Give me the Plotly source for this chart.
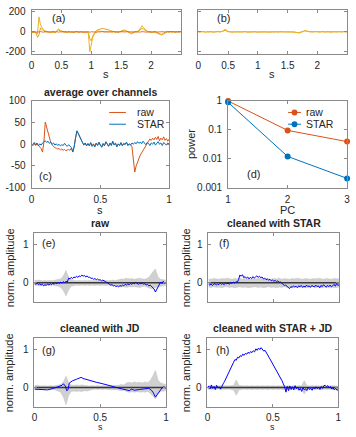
import plotly.graph_objects as go

W, H = 356, 437
FONT = "Liberation Sans, Arial, Helvetica, sans-serif"
TXT = "#262626"
FRAME = "#8a8a8a"
ORANGE = "#D95319"
BLUE = "#0072BD"
YELLOW = "#EDB120"
AMBER = "#E3A21A"
PBLUE = "#0000FF"
GRAY = "#d0d0d0"

# ---------------- data ----------------
# (a) raw channels (0 .. 2.5 s)
a_ch1 = [-3, -6, -2, -8, -20, 150, 70, 38, 20, 10,
         4, 0, -4, -2, -6, -3, -8, 5, 30, 18,
         8, 2, -3, 0, -4, -1, -5, 2, -3, 0,
         -4, 1, -2, 3, -1, -4, 2, -2, -6, -200,
         -110, -55, -22, -5, 5, 8, 6, 4, 7, 3,
         0, 4, -2, 2, -3, 1, -4, 0, 3, -2,
         2, 6, 12, 8, 2, -6, -12, -8, -2, 3,
         0, 5, 20, 40, 62, 42, 24, 12, 5, 0,
         -3, 2, -4, 0, -5, -10, -18, -25, -15, -6,
         0, 3, -2, 2, -3, 1, -4, 2, -1, 3,
         0]
a_ch2 = [2, -3, 4, -5, -55, -30, 40, 22, 10, 4,
         -2, 3, -5, 0, -3, 2, -4, 10, 20, 12,
         4, 0, -3, 2, -2, 3, -1, -4, 1, -2,
         3, 0, -3, 2, -2, 1, -3, 0, -4, -70,
         -90, -40, -10, 8, 18, 25, 30, 32, 33, 31,
         28, 24, 18, 12, 6, 2, -2, 1, -3, 2,
         8, 15, 20, 14, 5, -10, -18, -20, -10, -2,
         3, 0, 10, 25, 35, 28, 15, 6, 1, -2,
         2, -3, 1, -4, -8, -15, -25, -32, -22, -10,
         -3, 2, -1, 3, -2, 1, -3, 2, 0, -2,
         1]
a_ch3 = [0, -3, 2, -4, 1, -2, 3, -1, -4, 2,
         0, -3, 1, -2, 3, -1, 0, 2, -3, 1,
         -2, 4, -1, 0, -3, 2, -2, 1, -4, 0,
         3, -1, -2, 2, -3, 1, 0, -2, 3, -4,
         1, -1, 2, 0, -3, 1, -2, 3, 0, -1,
         2, -3, 1, -2, 0, 3, -1, 1, -3, 2,
         0, -2, 1, -1, 3, -2, 0, 2, -3, 1,
         -1, 0, 2, -2, 3, -1, 1, -3, 0, 2,
         -1, -2, 1, 3, -2, 0, 1, -3, 2, -1,
         0, 2, -2, 1, -1, 3, -2, 0, 1, -1,
         2]
# (b) cleaned channels
b_ch1 = [2, -3, 4, -1, 3, -4, 1, -2, 5, 0,
         -3, 2, -1, 4, -2, 1, 3, 12, 28, 10,
         3, -2, 1, -4, 2, -1, 3, -3, 0, 2,
         -2, 4, -1, 1, -3, 2, 0, -2, 3, -1,
         1, -3, 2, 0, -2, 4, -1, 1, -3, 2,
         0, -2, 3, -1, 1, -4, 2, 0, -2, 3,
         -1, 1, -2, 3, 0, -3, -6, -10, -12, -5,
         2, 8, 15, 9, 3, -1, 2, -2, 1, 3,
         -1, 2, -3, 1, 0, 3, -2, 1, -1, 2,
         -3, 1, 2, -1, 0, 3, -2, 1, 4, -1,
         1]
b_ch2 = [-1, 2, -2, 3, 0, -3, 2, 1, -1, 3,
         0, -2, 3, 1, -1, 2, 5, 8, 16, 7,
         1, 3, -1, 2, 0, -2, 1, 2, -1, 0,
         3, -1, 2, -2, 0, 1, 3, -1, 1, -2,
         2, 0, -1, 3, 1, -2, 2, 0, -3, 1,
         2, -1, 0, 3, -2, 1, 0, 2, -1, 1,
         3, 0, -1, 2, -2, -4, -8, -7, -5, 0,
         4, 6, 10, 5, 2, 0, 3, -1, 2, 0,
         2, -2, 1, 3, -1, 0, 2, -1, 3, 1,
         -2, 2, 0, 3, -1, 1, 2, -2, 1, 0,
         2]
# (c) average over channels
c_raw = [0, -2, 3, -3, 1, -2, -5, -10, -18, 5,
         51, 38, 24, 12, 4, -2, -6, -8, -9, -11,
         -10, -13, -11, -14, -12, -15, -13, -12, -14, -9,
         -17, -5, 14, 30, 25, 17, 10, 4, -1, 2,
         -3, 2, -4, 3, -4, 1, -5, 3, -2, 4,
         -3, -6, 2, -3, 5, 0, -4, 2, -2, 6,
         -1, 3, -5, 0, -2, 3, -3, 1, 0, 4,
         -2, 0, -1, -6, -45, -64, -50, -40, -33, -25,
         -20, -14, -9, -4, 2, 7, 12, 9, 14, 10,
         16, 11, 18, 8, 14, 10, 17, 9, 13, 7,
         12]
c_star = [2, -3, 4, -1, 3, -4, 1, -2, 3, 6,
          8, 4, 7, 2, 5, 0, 3, -2, 1, -3,
          0, -4, -1, -3, 2, -2, -5, -1, -4, -8,
          -18, -6, 15, 31, 24, 18, 9, 5, -2, 3,
          -4, 1, -3, 4, -5, 0, -6, 2, -3, 5,
          -2, -7, 1, -4, 6, -1, -5, 3, -3, 7,
          -2, 2, -6, 1, -3, 4, -4, 2, -1, 5,
          -3, 1, -2, 3, 0, 4, 1, 6, 2, 5,
          1, 7, 3, -1, 4, 2, -3, 3, 0, 5,
          -2, 2, 6, 0, 3, -3, 4, 1, -2, 3,
          0]
# (d) power per PC
pc = [1, 2, 3]
d_raw = [0.98, 0.095, 0.039]
d_star = [0.88, 0.012, 0.0021]
# (e)-(h) normalized amplitudes, 0..1 s
e_blue = [-0.02, -0.04, -0.01, -0.05, -0.03, -0.06, -0.04, -0.08, -0.05, -0.07,
          -0.03, -0.06, -0.02, -0.05, -0.01, -0.04, 0.00, -0.03, 0.01, -0.02,
          0.02, -0.01, 0.03, 0.00, 0.04, 0.02, 0.12, 0.10, 0.14, 0.11,
          0.15, 0.13, 0.17, 0.14, 0.18, 0.16, 0.20, 0.17, 0.19, 0.15,
          0.18, 0.14, 0.15, 0.11, 0.12, 0.09, 0.11, 0.08, 0.10, 0.07,
          0.08, 0.05, 0.07, 0.04, 0.03, 0.01, -0.02, -0.04, -0.06, -0.05,
          -0.08, -0.07, -0.10, -0.08, -0.11, -0.07, -0.09, -0.06, -0.08, -0.04,
          -0.06, -0.03, -0.05, -0.02, -0.04, 0.00, -0.03, 0.01, -0.02, -0.04,
          -0.01, -0.03, 0.00, -0.04, -0.02, -0.06, -0.04, -0.08, -0.06, -0.10,
          -0.12, -0.16, -0.24, -0.18, -0.10, -0.04, 0.02, -0.02, 0.04, -0.01,
          0.01]
e_up = [0.07, 0.06, 0.07, 0.05, 0.06, 0.05, 0.06, 0.05, 0.07, 0.08,
        0.10, 0.18, 0.32, 0.15, 0.08, 0.06, 0.05, 0.06, 0.05, 0.06,
        0.05, 0.06, 0.05, 0.06, 0.05, 0.06, 0.05, 0.06, 0.05, 0.06,
        0.07, 0.06, 0.08, 0.10, 0.09, 0.12, 0.10, 0.11, 0.09, 0.10,
        0.12, 0.10, 0.09, 0.12, 0.18, 0.28, 0.36, 0.15, 0.09, 0.08,
        0.07]
e_lo = [-0.07, -0.06, -0.08, -0.06, -0.07, -0.06, -0.07, -0.06, -0.08, -0.09,
        -0.12, -0.20, -0.34, -0.18, -0.09, -0.07, -0.06, -0.07, -0.06, -0.07,
        -0.06, -0.07, -0.06, -0.07, -0.06, -0.07, -0.06, -0.07, -0.06, -0.07,
        -0.08, -0.07, -0.09, -0.11, -0.10, -0.12, -0.10, -0.11, -0.10, -0.11,
        -0.12, -0.10, -0.09, -0.12, -0.14, -0.16, -0.12, -0.10, -0.09, -0.08,
        -0.07]
f_blue = [-0.04, -0.06, -0.03, -0.07, -0.04, -0.02, -0.06, -0.03, -0.05, -0.01,
          -0.04, -0.02, -0.05, 0.00, -0.03, -0.01, -0.04, 0.01, -0.02, 0.02,
          -0.01, 0.03, 0.01, 0.08, 0.20, 0.17, 0.21, 0.13, 0.16, 0.12,
          0.15, 0.10, 0.14, 0.11, 0.16, 0.12, 0.15, 0.18, 0.14, 0.17,
          0.13, 0.15, 0.10, 0.12, 0.08, 0.10, 0.07, 0.09, 0.05, 0.07,
          0.04, 0.06, 0.03, 0.05, 0.01, 0.02, -0.01, -0.04, -0.07, -0.06,
          -0.09, -0.12, -0.15, -0.10, -0.12, -0.08, -0.11, -0.09, -0.13, -0.08,
          -0.10, -0.07, -0.12, -0.09, -0.11, -0.06, -0.10, -0.08, -0.12, -0.07,
          -0.09, -0.11, -0.06, -0.10, -0.08, -0.13, -0.07, -0.10, -0.05, -0.09,
          -0.12, -0.07, -0.10, -0.06, -0.11, -0.08, -0.04, -0.09, -0.02, -0.07,
          -0.05]
f_up = [0.10, 0.09, 0.11, 0.10, 0.09, 0.11, 0.10, 0.12, 0.10, 0.09,
        0.11, 0.10, 0.12, 0.09, 0.11, 0.10, 0.09, 0.11, 0.10, 0.12,
        0.10, 0.09, 0.11, 0.10, 0.09, 0.11, 0.10, 0.12, 0.09, 0.11,
        0.10, 0.09, 0.11, 0.10, 0.12, 0.10, 0.09, 0.11, 0.10, 0.09,
        0.11, 0.10, 0.12, 0.10, 0.09, 0.11, 0.10, 0.09, 0.11, 0.10,
        0.10]
f_lo = [-0.11, -0.12, -0.10, -0.12, -0.11, -0.13, -0.11, -0.10, -0.12, -0.11,
        -0.13, -0.12, -0.10, -0.12, -0.11, -0.13, -0.12, -0.11, -0.10, -0.12,
        -0.11, -0.13, -0.12, -0.10, -0.12, -0.11, -0.13, -0.11, -0.12, -0.10,
        -0.12, -0.11, -0.13, -0.12, -0.10, -0.12, -0.11, -0.13, -0.12, -0.11,
        -0.10, -0.12, -0.11, -0.13, -0.12, -0.10, -0.12, -0.11, -0.13, -0.12,
        -0.11]
g_t = [0, 0.04, 0.07, 0.10, 0.145, 0.18, 0.21, 0.22, 0.235, 0.245,
       0.255, 0.265, 0.29, 0.32, 0.355, 0.37, 0.42, 0.47, 0.52, 0.56,
       0.59, 0.62, 0.66, 0.70, 0.72, 0.74, 0.76, 0.80, 0.84, 0.87,
       0.89, 0.905, 0.92, 0.935, 0.95, 0.97, 0.985, 1.0]
g_blue = [-0.04, -0.05, -0.07, -0.06, -0.02, 0.02, 0.06, 0.10, 0.04, -0.08,
          -0.06, 0.12, 0.18, 0.22, 0.27, 0.24, 0.18, 0.14, 0.10, 0.06,
          0.02, -0.01, -0.03, -0.06, -0.08, -0.04, -0.07, -0.05, -0.03, -0.02,
          -0.07, -0.14, -0.25, -0.18, -0.08, -0.01, 0.02, -0.02]
g_up = [0.05, 0.06, 0.05, 0.04, 0.05, 0.04, 0.05, 0.04, 0.05, 0.06,
        0.08, 0.15, 0.30, 0.12, 0.07, 0.06, 0.07, 0.06, 0.07, 0.06,
        0.05, 0.04, 0.05, 0.04, 0.05, 0.04, 0.05, 0.04, 0.05, 0.05,
        0.06, 0.05, 0.06, 0.08, 0.07, 0.12, 0.14, 0.12, 0.15, 0.13,
        0.14, 0.12, 0.15, 0.13, 0.18, 0.30, 0.45, 0.20, 0.12, 0.10,
        0.08]
g_lo = [-0.05, -0.06, -0.05, -0.04, -0.05, -0.04, -0.05, -0.04, -0.06, -0.08,
        -0.12, -0.25, -0.45, -0.20, -0.10, -0.09, -0.10, -0.09, -0.10, -0.08,
        -0.09, -0.07, -0.05, -0.04, -0.05, -0.04, -0.05, -0.04, -0.05, -0.05,
        -0.06, -0.05, -0.06, -0.08, -0.07, -0.10, -0.12, -0.11, -0.12, -0.10,
        -0.12, -0.11, -0.12, -0.10, -0.14, -0.22, -0.30, -0.16, -0.10, -0.09,
        -0.08]
h_blue = [0.00, 0.04, -0.03, 0.07, -0.02, 0.03, -0.05, 0.06, -0.01, 0.02,
          -0.04, 0.05, 0.10, 0.16, 0.24, 0.32, 0.38, 0.46, 0.55, 0.60,
          0.67, 0.74, 0.72, 0.80, 0.78, 0.84, 0.82, 0.88, 0.85, 0.90,
          0.88, 0.93, 0.90, 0.95, 0.92, 0.97, 0.94, 1.02, 0.98, 1.04,
          1.00, 1.05, 0.99, 0.96, 0.98, 0.90, 0.86, 0.80, 0.74, 0.68,
          0.62, 0.57, 0.50, 0.46, 0.40, 0.34, 0.27, 0.18, 0.10, 0.02,
          -0.12, 0.03, -0.08, 0.04, -0.05, 0.02, -0.06, 0.05, -0.03, 0.01,
          -0.07, -0.02, -0.10, 0.00, -0.06, -0.03, -0.08, 0.01, -0.05, -0.02,
          -0.07, 0.00, -0.04, 0.02, -0.03, 0.01, -0.05, 0.03, -0.02, 0.05,
          0.06, 0.02, 0.05, -0.01, 0.03, -0.04, 0.00, -0.06, -0.02, -0.07,
          -0.05]
h_up = [0.04, 0.05, 0.04, 0.05, 0.04, 0.05, 0.04, 0.05, 0.04, 0.05,
        0.06, 0.20, 0.06, 0.05, 0.04, 0.05, 0.04, 0.05, 0.04, 0.05,
        0.04, 0.05, 0.04, 0.05, 0.04, 0.05, 0.04, 0.05, 0.04, 0.05,
        0.04, 0.05, 0.04, 0.05, 0.04, 0.05, 0.05, 0.18, 0.05, 0.04,
        0.05, 0.04, 0.05, 0.04, 0.05, 0.04, 0.05, 0.04, 0.05, 0.04,
        0.04]
h_lo = [-0.04, -0.05, -0.04, -0.05, -0.04, -0.05, -0.04, -0.05, -0.04, -0.05,
        -0.06, -0.20, -0.06, -0.05, -0.04, -0.05, -0.04, -0.05, -0.04, -0.05,
        -0.04, -0.05, -0.04, -0.05, -0.04, -0.05, -0.04, -0.05, -0.04, -0.05,
        -0.04, -0.05, -0.04, -0.05, -0.04, -0.05, -0.05, -0.17, -0.05, -0.04,
        -0.05, -0.04, -0.05, -0.04, -0.05, -0.04, -0.05, -0.04, -0.05, -0.04,
        -0.04]
zero_t = [0, 1]
zero_v = [0, 0]


def tgrid(vals, span):
    n = len(vals)
    return [span * i / (n - 1) for i in range(n)]


def fx(px):
    return px / W


def fy(py):
    return 1 - py / H


fig = go.Figure()

# boxes in pixels: (left, top, right, bottom)
boxes = {
    1: (29, 5, 181, 50),
    2: (198.7, 5, 350, 50),
    3: (29, 98, 169, 187),
    4: (229, 98, 350, 187),
    5: (32, 233, 165.7, 304),
    6: (209, 233, 342, 304),
    7: (32, 341, 165.7, 411),
    8: (208, 341, 341, 411),
}


def axname(i, kind):
    return kind if i == 1 else f"{kind}{i}"


def ref(i):
    return ("x" if i == 1 else f"x{i}"), ("y" if i == 1 else f"y{i}")


def line(i, x, y, color, width=1, **kw):
    xr, yr = ref(i)
    fig.add_trace(go.Scatter(x=x, y=y, mode="lines", xaxis=xr, yaxis=yr,
                             line=dict(color=color, width=width), showlegend=False,
                             hoverinfo="skip", **kw))


def band(i, lo, up):
    xr, yr = ref(i)
    t = tgrid(lo, 1.0)
    fig.add_trace(go.Scatter(x=t, y=lo, mode="lines", xaxis=xr, yaxis=yr,
                             line=dict(width=0.5, color="#c2c2c2"), showlegend=False,
                             hoverinfo="skip"))
    fig.add_trace(go.Scatter(x=t, y=up, mode="lines", xaxis=xr, yaxis=yr, fill="tonexty",
                             fillcolor=GRAY, line=dict(width=0.5, color="#c2c2c2"),
                             showlegend=False, hoverinfo="skip"))


# (a)
line(1, tgrid(a_ch2, 2.5), a_ch2, AMBER, 1)
line(1, tgrid(a_ch1, 2.5), a_ch1, YELLOW, 1)
line(1, tgrid(a_ch3, 2.5), a_ch3, ORANGE, 0.8)
# (b)
line(2, tgrid(b_ch2, 2.5), b_ch2, AMBER, 1)
line(2, tgrid(b_ch1, 2.5), b_ch1, YELLOW, 1)
# (c)
line(3, tgrid(c_raw, 1.0), c_raw, ORANGE, 1)
line(3, tgrid(c_star, 1.0), c_star, BLUE, 1)
# (d)
for vals, col in ((d_raw, ORANGE), (d_star, BLUE)):
    fig.add_trace(go.Scatter(x=pc, y=vals, mode="lines+markers", xaxis="x4", yaxis="y4",
                             line=dict(color=col, width=1), marker=dict(color=col, size=6),
                             cliponaxis=False, showlegend=False, hoverinfo="skip"))
# (e)-(h)
for i, lo, up, blue, bt in ((5, e_lo, e_up, e_blue, None), (6, f_lo, f_up, f_blue, None),
                            (7, g_lo, g_up, g_blue, g_t), (8, h_lo, h_up, h_blue, None)):
    band(i, lo, up)
    line(i, zero_t, zero_v, "#3a3a3a", 1.5)
    line(i, bt if bt is not None else tgrid(blue, 1.0), blue, PBLUE, 1)

tickfont = dict(family=FONT, size=10, color=TXT)
common = dict(showline=True, linecolor=FRAME, linewidth=1, mirror="ticks", ticks="inside",
              ticklen=3, tickcolor=FRAME, showgrid=False, zeroline=False, tickfont=tickfont,
              tickmode="array", fixedrange=True)

axes_cfg = {
    1: (dict(range=[0, 2.5], tickvals=[0, 0.5, 1, 1.5, 2], ticktext=["0", "0.5", "1", "1.5", "2"]),
        dict(range=[-220, 220], tickvals=[-200, 0, 200], ticktext=["-200", "0", "200"])),
    2: (dict(range=[0, 2.5], tickvals=[0, 0.5, 1, 1.5, 2], ticktext=["0", "0.5", "1", "1.5", "2"]),
        dict(range=[-220, 220], tickvals=[-200, 0, 200], showticklabels=False)),
    3: (dict(range=[0, 1], tickvals=[0, 0.5, 1], ticktext=["0", "0.5", "1"]),
        dict(range=[-100, 100], tickvals=[-100, -50, 0, 50, 100],
             ticktext=["-100", "-50", "0", "50", "100"])),
    4: (dict(range=[1, 3], tickvals=[1, 2, 3], ticktext=["1", "2", "3"]),
        dict(type="log", range=[-3, 0], tickvals=[0.001, 0.01, 0.1, 1],
             ticktext=["0.001", "0.01", "0.1", "1"])),
}
for i in (5, 6, 7, 8):
    xa = dict(range=[0, 1], tickvals=[0, 0.5, 1], ticktext=["0", "0.5", "1"],
              showticklabels=(i in (7, 8)))
    ya = dict(range=[-0.5, 1.3], tickvals=[0, 1], ticktext=["0", "1"])
    axes_cfg[i] = (xa, ya)

layout_axes = {}
for i, (l, t, r, b) in boxes.items():
    xa, ya = axes_cfg[i]
    xr, yr = ref(i)
    layout_axes[axname(i, "xaxis")] = dict(common, domain=[fx(l), fx(r)], anchor=yr,
                                           ticklabelstandoff=(1 if i in (7, 8) else 2), **xa)
    layout_axes[axname(i, "yaxis")] = dict(common, domain=[fy(b), fy(t)], anchor=xr,
                                           ticklabelstandoff=3, **ya)

ann = []


def text(s, x, y, size=11, bold=False, xanchor="center", angle=0):
    ann.append(dict(text=f"<b>{s}</b>" if bold else s, x=fx(x), y=fy(y), xref="paper",
                    yref="paper", showarrow=False, xanchor=xanchor, yanchor="middle",
                    textangle=angle, font=dict(family=FONT, size=size, color=TXT)))


# panel letters
for s, x, y in (("(a)", 48, 13), ("(b)", 216, 13), ("(c)", 35, 175), ("(d)", 246, 173),
                ("(e)", 38, 244), ("(f)", 218, 244), ("(g)", 38, 353), ("(h)", 215, 353)):
    text(s, x, y, 11, xanchor="left")
# titles
text("average over channels", 99, 89, 10.5, bold=True)
text("raw", 99, 223, 10.5, bold=True)
text("cleaned with STAR", 275.5, 223, 10.5, bold=True)
text("cleaned with JD", 99, 331, 10.5, bold=True)
text("cleaned with STAR + JD", 274.5, 331, 10.5, bold=True)
# axis labels
text("s", 105, 71, 11)
text("s", 274, 71, 11)
text("s", 99, 210, 11)
text("PC", 289.5, 210, 11)
text("s", 99, 431.5, 9)
text("s", 274.5, 431.5, 9)
text("power", 191, 142.5, 11, angle=-90)
for x, y in ((7, 268.5), (187, 268.5), (7, 376), (187, 376)):
    text("norm. amplitude", x, y, 11, angle=-90)
# legends
shapes = []
for (x0, x1, y, col, lab, marker) in ((108, 125, 110, ORANGE, "raw", False),
                                     (108, 125, 122, BLUE, "STAR", False),
                                     (290, 303, 110, ORANGE, "raw", True),
                                     (290, 303, 122, BLUE, "STAR", True)):
    shapes.append(dict(type="line", xref="paper", yref="paper", x0=fx(x0), x1=fx(x1),
                       y0=fy(y), y1=fy(y), line=dict(color=col, width=1)))
    if marker:
        xm = (x0 + x1) / 2
        shapes.append(dict(type="circle", xref="paper", yref="paper", x0=fx(xm - 3),
                           x1=fx(xm + 3), y0=fy(y + 3), y1=fy(y - 3),
                           fillcolor=col, line=dict(color=col, width=0)))
    text(lab, x1 + 9 if not marker else x1 + 3, y, 10.5, xanchor="left")

fig.update_layout(width=W, height=H, margin=dict(l=0, r=0, t=0, b=0),
                  paper_bgcolor="white", plot_bgcolor="white", showlegend=False,
                  annotations=ann, shapes=shapes, **layout_axes)

fig.write_html("out.html")
